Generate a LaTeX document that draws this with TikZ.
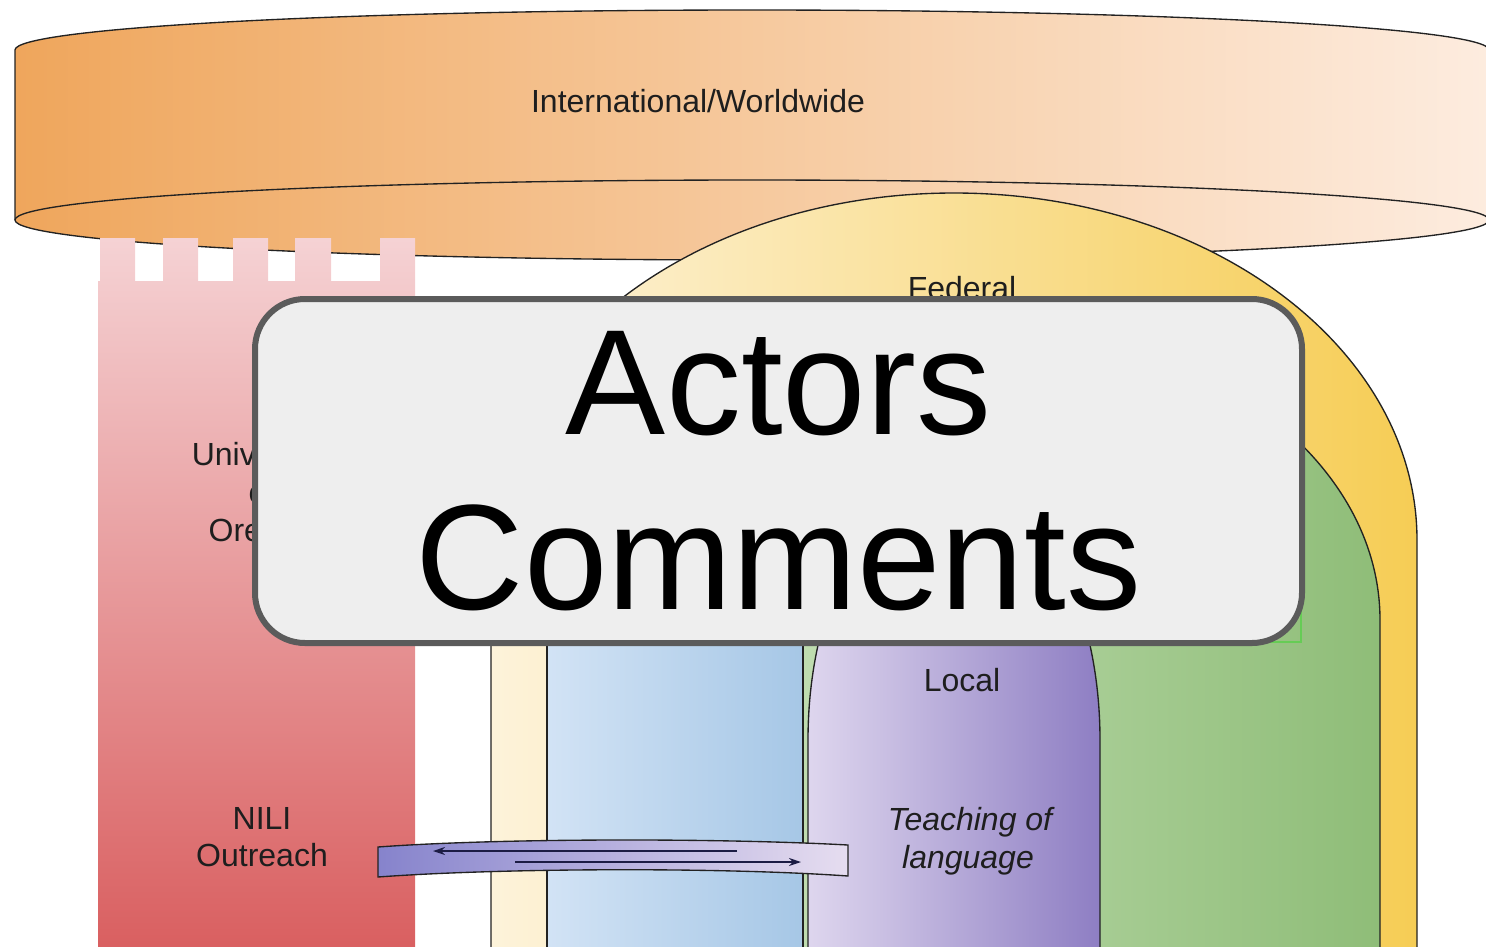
\documentclass[tikz,border=0pt]{standalone}
\usepackage{fontspec}
\setmainfont{Liberation Sans}
\usetikzlibrary{arrows.meta}

\definecolor{bandL}{HTML}{EFA65C}
\definecolor{bandR}{HTML}{FDECDF}
\definecolor{fedL}{HTML}{FDF3DA}
\definecolor{fedR}{HTML}{F6CD55}
\definecolor{grnL}{HTML}{D4EAC8}
\definecolor{grnR}{HTML}{8FBD78}
\definecolor{bluL}{HTML}{D2E3F5}
\definecolor{bluR}{HTML}{A6C7E6}
\definecolor{purL}{HTML}{DED6EE}
\definecolor{purR}{HTML}{8E7EC3}
\definecolor{towT}{HTML}{F5D2D4}
\definecolor{towB}{HTML}{D95F60}
\definecolor{barL}{HTML}{8683CC}
\definecolor{barR}{HTML}{E6DDF0}
\definecolor{boxF}{HTML}{EEEEEE}
\definecolor{boxD}{HTML}{5B5B5B}
\definecolor{edge}{HTML}{222222}
\definecolor{txt}{HTML}{1E1E1E}
\definecolor{arrowc}{HTML}{1C1C44}
\definecolor{selgreen}{HTML}{66CC55}

\begin{document}
\begin{tikzpicture}[x=1pt,y=-1pt,
  outline/.style={draw=edge,line width=1.35pt},
  lbl/.style={font=\fontsize{32}{38}\selectfont,text=txt,inner sep=0pt,anchor=base},
  flow/.style={draw=arrowc,line width=1.6pt,-{Stealth[length=12pt,width=8pt]}}]
\useasboundingbox (0,0) rectangle (1486,946);
\clip (0,0) rectangle (1486,946);

% international band (flat cylinder seen from below)
\path[left color=bandL,right color=bandR]
  (15,50) arc[start angle=180,end angle=0,x radius=737pt,y radius=40pt]
  -- (1489,220) arc[start angle=0,end angle=-180,x radius=737pt,y radius=40pt] -- cycle;
\draw[outline]
  (15,220) -- (15,50) arc[start angle=180,end angle=0,x radius=737pt,y radius=40pt]
  -- (1489,220) arc[start angle=0,end angle=-180,x radius=737pt,y radius=40pt];
\draw[outline] (15,220) arc[start angle=180,end angle=0,x radius=737pt,y radius=40pt];
\node[lbl] (intl) at (698,112) {International/Worldwide};

% federal arch
\path[left color=fedL,right color=fedR]
  (491,950) -- (491,540) arc[start angle=180,end angle=0,x radius=463pt,y radius=347pt] -- (1417,950) -- cycle;
\draw[outline]
  (491,950) -- (491,540) arc[start angle=180,end angle=0,x radius=463pt,y radius=347pt] -- (1417,950);
\node[lbl] (federal) at (962,299) {Federal};

% state arch
\path[left color=grnL,right color=grnR]
  (547,950) -- (547,620) arc[start angle=180,end angle=0,x radius=416.5pt,y radius=300pt] -- (1380,950) -- cycle;
\draw[outline]
  (547,950) -- (547,620) arc[start angle=180,end angle=0,x radius=416.5pt,y radius=300pt] -- (1380,950);

% blue column
\path[left color=bluL,right color=bluR] (547,600) rectangle (803,950);
\draw[outline] (547,600) -- (547,950) (803,600) -- (803,950);

% local arch
\path[left color=purL,right color=purR]
  (808,950) -- (808,740) arc[start angle=180,end angle=0,x radius=146pt,y radius=260pt] -- (1100,950) -- cycle;
\draw[outline]
  (808,950) -- (808,740) arc[start angle=180,end angle=0,x radius=146pt,y radius=260pt] -- (1100,950);
\node[lbl] (local) at (962,691) {Local};
\node[lbl,font=\fontsize{32}{38}\selectfont\itshape] (teach1) at (970,830) {Teaching of};
\node[lbl,font=\fontsize{32}{38}\selectfont\itshape] (teach2) at (968,868) {language};

% university tower with battlements
\path[top color=towT,bottom color=towB]
  (98,281) rectangle (415,950)
  (100,238) rectangle (135,282)
  (163,238) rectangle (198,282)
  (233,238) rectangle (268,282)
  (295,238) rectangle (331,282)
  (380,238) rectangle (415,282);
\node[lbl] (uni1) at (262,465) {University};
\node[lbl] (uni2) at (262,503) {of};
\node[lbl] (uni3) at (262,541) {Oregon};
\node[lbl] (nili1) at (262,829) {NILI};
\node[lbl] (nili2) at (262,866) {Outreach};

% outreach channel with two-way flow
\path[left color=barL,right color=barR]
  (378,847) .. controls (500,838) and (720,838) .. (848,845) -- (848,876)
  .. controls (720,867) and (500,868) .. (378,877) -- cycle;
\draw[draw=edge,line width=1.35pt]
  (378,847) .. controls (500,838) and (720,838) .. (848,845) -- (848,876)
  .. controls (720,867) and (500,868) .. (378,877) -- cycle;
\coordinate (w1) at (737,851);
\coordinate (w2) at (433,851);
\coordinate (e1) at (515,862);
\coordinate (e2) at (801,862);
\draw[flow] (w1) -- (w2);
\draw[flow] (e1) -- (e2);

% selection frame peeking out below the title box
\draw[selgreen,line width=1.2pt] (700,500) rectangle (1301,642);

% title box
\node[draw=boxD,line width=6pt,fill=boxF,rounded corners=50pt,
      minimum width=1047pt,minimum height=344pt,inner sep=0pt,
      align=center,text=black,font=\fontsize{150}{175}\selectfont]
  (title) at (778.5,471) {Actors\\Comments};
\end{tikzpicture}
\end{document}
